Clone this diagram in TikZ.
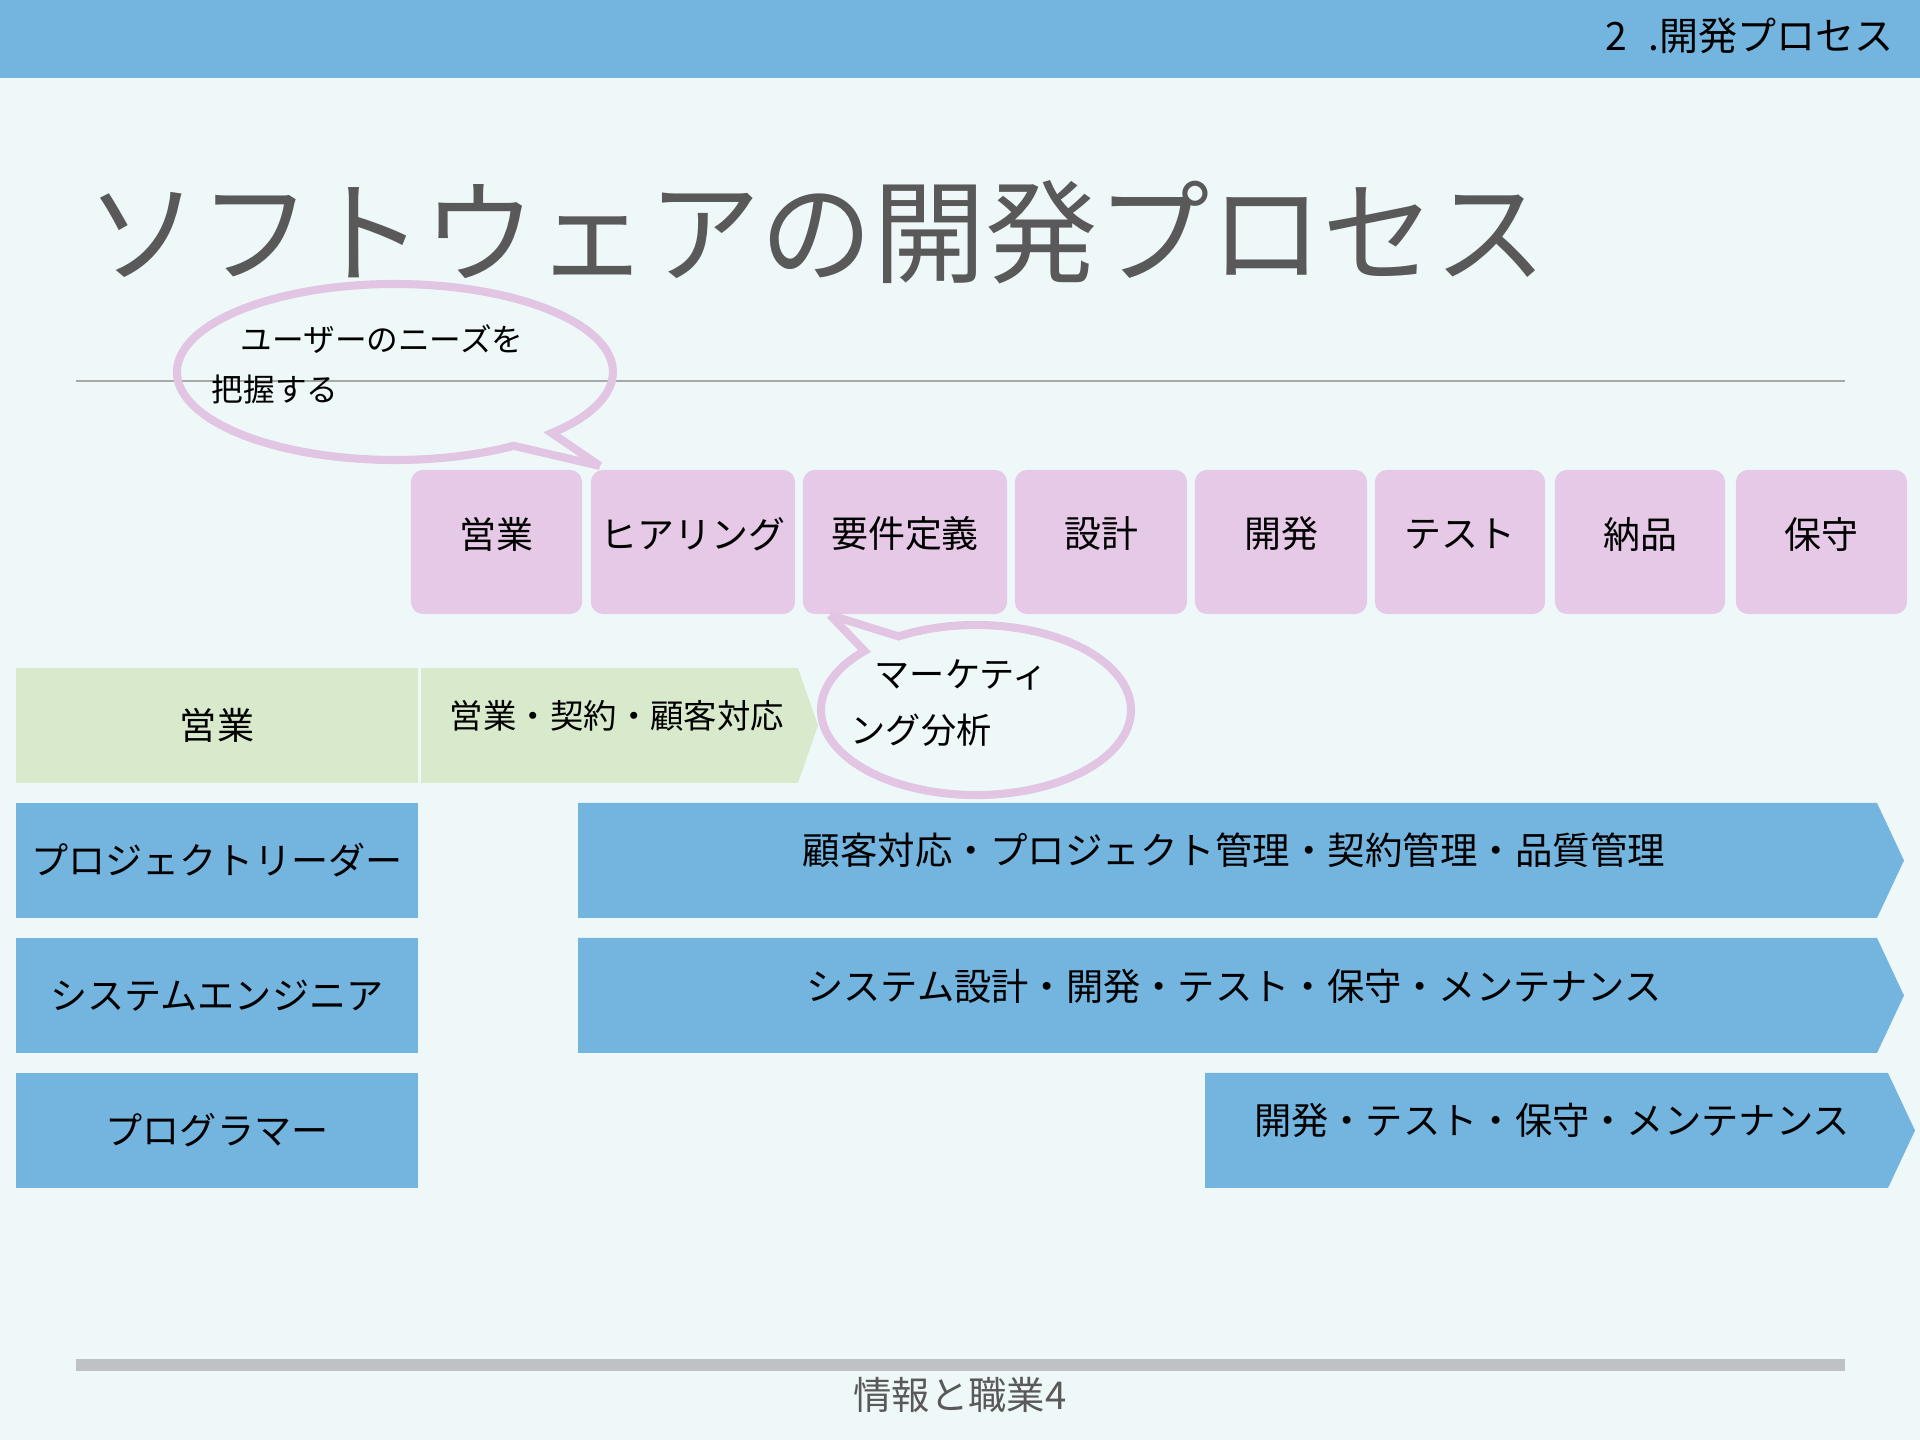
\documentclass[tikz,border=0pt]{standalone}
\usepackage{fontspec}
\setmainfont{Noto Sans CJK JP}
\usetikzlibrary{calc}
\definecolor{bgc}{HTML}{EFF8F9}
\definecolor{bluec}{HTML}{74B5E0}
\definecolor{pinkc}{HTML}{E5C9E6}
\definecolor{pinkline}{HTML}{E2C4E3}
\definecolor{greenc}{HTML}{D9EACC}
\definecolor{titlegray}{HTML}{595959}
\definecolor{rulegray}{HTML}{A8A8A8}
\definecolor{footgray}{HTML}{BEC2C4}
\newcommand{\fsz}[1]{\fontsize{#1}{#1}\selectfont}
\tikzset{
  pinkbox/.style={fill=pinkc, rounded corners=0.12cm, minimum height=1.44cm, inner sep=0, draw=none},
  rolebox/.style={minimum width=4.02cm, minimum height=1.15cm, inner sep=0, draw=none},
  lbl/.style={inner sep=0, text=black},
  phaselbl/.style={lbl, font=\fsz{10.5pt}},
  rolelbl/.style={lbl, font=\fsz{10.55pt}},
  bubble/.style={draw=pinkline, line width=2.3pt, line join=miter},
  chev/.style={draw=none}
}
\begin{document}
\begin{tikzpicture}[x=0.01cm,y=-0.01cm]
% background
\fill[bgc] (0,0) rectangle (1920,1440);
\useasboundingbox (0,0) rectangle (1920,1440);
% header bar
\fill[bluec] (0,0) rectangle (1920,78);
\node[lbl, anchor=east, font=\fsz{11.1pt}] (hdr) at (1894,36) {2\hspace{0.55em}.開発プロセス};
% title
\node[inner sep=0, anchor=west, text=titlegray, font=\fsz{31.95pt}] (title) at (86,232) {ソフトウェアの開発プロセス};
% thin rule
\coordinate (ruleL) at (76,381);
\coordinate (ruleR) at (1845,381);
\draw[rulegray, line width=0.45pt] (ruleL) -- (ruleR);
% phase boxes
\node[pinkbox, minimum width=1.71cm] (p1) at (496.5,542) {};
\node[pinkbox, minimum width=2.04cm] (p2) at (693,542) {};
\node[pinkbox, minimum width=2.04cm] (p3) at (905,542) {};
\node[pinkbox, minimum width=1.72cm] (p4) at (1101,542) {};
\node[pinkbox, minimum width=1.72cm] (p5) at (1281,542) {};
\node[pinkbox, minimum width=1.70cm] (p6) at (1460,542) {};
\node[pinkbox, minimum width=1.70cm] (p7) at (1640,542) {};
\node[pinkbox, minimum width=1.71cm] (p8) at (1821.5,542) {};
\node[phaselbl] (t1) at ([yshift=0.08cm]p1.center) {営業};
\node[phaselbl] (t2) at ([yshift=0.08cm]p2.center) {ヒアリング};
\node[phaselbl] (t3) at ([yshift=0.08cm]p3.center) {要件定義};
\node[phaselbl] (t4) at ([yshift=0.08cm]p4.center) {設計};
\node[phaselbl] (t5) at ([yshift=0.08cm]p5.center) {開発};
\node[phaselbl] (t6) at ([yshift=0.08cm]p6.center) {テスト};
\node[phaselbl] (t7) at ([yshift=0.08cm]p7.center) {納品};
\node[phaselbl] (t8) at ([yshift=0.08cm]p8.center) {保守};
% role boxes
\node[rolebox, fill=greenc] (r1) at (217,725.5) {};
\node[rolebox, fill=bluec] (r2) at (217,860.5) {};
\node[rolebox, fill=bluec] (r3) at (217,995.5) {};
\node[rolebox, fill=bluec] (r4) at (217,1130.5) {};
\node[rolelbl] (rl1) at (r1.center) {営業};
\node[rolelbl] (rl2) at (r2.center) {プロジェクトリーダー};
\node[rolelbl] (rl3) at (r3.center) {システムエンジニア};
\node[rolelbl] (rl4) at (r4.center) {プログラマー};
% chevrons
\fill[greenc] (421,668) -- (798,668) -- (818,725.5) -- (798,783) -- (421,783) -- cycle;
\fill[bluec] (578,803) -- (1877,803) -- (1904,860.5) -- (1877,918) -- (578,918) -- cycle;
\fill[bluec] (578,938) -- (1877,938) -- (1904,995.5) -- (1877,1053) -- (578,1053) -- cycle;
\fill[bluec] (1205,1073) -- (1888,1073) -- (1915,1130.5) -- (1888,1188) -- (1205,1188) -- cycle;
\node[lbl, font=\fsz{9.5pt}] (c1) at (617,716) {営業・契約・顧客対応};
\node[lbl, font=\fsz{10.66pt}] (c2) at (1234,850) {顧客対応・プロジェクト管理・契約管理・品質管理};
\node[lbl, font=\fsz{10.6pt}] (c3) at (1234,986) {システム設計・開発・テスト・保守・メンテナンス};
\node[lbl, font=\fsz{10.6pt}] (c4) at (1552,1120) {開発・テスト・保守・メンテナンス};
% speech bubble 1
\coordinate (tip1) at (600,466);
\draw[bubble] (tip1) -- (513.7,445.8) arc[start angle=57, end angle=404, x radius=218, y radius=88] -- (tip1);
\node[lbl, anchor=west, font=\fsz{9pt}] (b1a) at (240,339) {ユーザーのニーズを};
\node[lbl, anchor=west, font=\fsz{9pt}] (b1b) at (211,389) {把握する};
% speech bubble 2
\coordinate (tip2) at (830,615);
\draw[bubble] (tip2) -- (898.5,636.4) arc[start angle=240, end angle=584, x radius=155, y radius=85] -- (tip2);
\node[lbl, anchor=west, font=\fsz{10pt}] (b2a) at (874,675) {マーケティ};
\node[lbl, anchor=west, font=\fsz{10pt}] (b2b) at (850,730) {ング分析};
% footer
\fill[footgray] (76,1359) rectangle (1845,1371);
\node[inner sep=0, text=titlegray, font=\fsz{10.9pt}] (foot) at (960,1395) {情報と職業4};
\end{tikzpicture}
\end{document}
